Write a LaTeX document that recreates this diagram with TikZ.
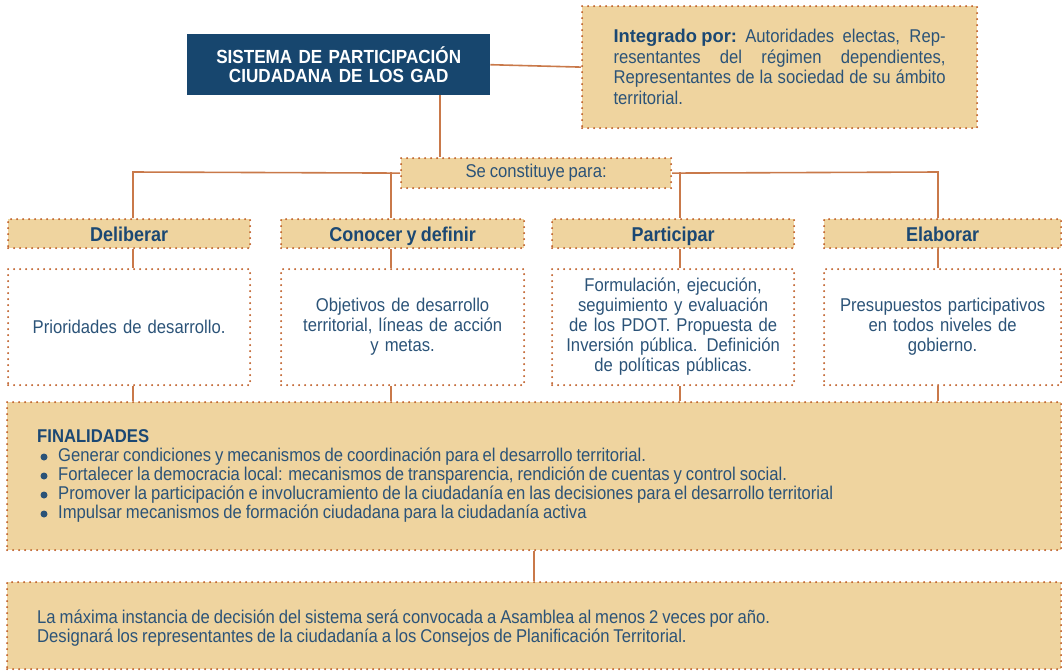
\documentclass[tikz,border=0pt]{standalone}
\usepackage{fontspec}
\setmainfont{Liberation Sans}[FakeStretch=0.9, WordSpace=0.85]
\definecolor{navy}{HTML}{17466E}
\definecolor{txt}{HTML}{2B5378}
\definecolor{hdr}{HTML}{1B4873}
\definecolor{tanf}{HTML}{EFD49F}
\definecolor{dotc}{HTML}{C0612B}
\definecolor{linec}{HTML}{C9794A}
\newcommand\bodysize{\fontsize{18.5}{20}\selectfont}
\newcommand\bul{\hspace*{21pt}}
\begin{document}
\begin{tikzpicture}[x=1pt,y=-1pt,
  dotbox/.style={draw=dotc, line width=2.2pt, dash pattern=on 0pt off 6pt, line cap=round, inner sep=0pt, anchor=north west},
  tanbox/.style={dotbox, fill=tanf},
  hdrbox/.style={tanbox, minimum height=29pt, text height=16.5pt, text depth=1.5pt, text=hdr, font=\bfseries\fontsize{20}{20}\selectfont},
  whitebox/.style={dotbox, minimum height=116pt, text width=236pt, align=center, text=txt, font=\bodysize},
  bulletdot/.style={fill=txt},
  conn/.style={draw=linec, line width=1.6pt}]
\useasboundingbox (0,0) rectangle (1062,670);

% title
\node[fill=navy, anchor=north west, inner sep=0pt, minimum width=303pt, minimum height=61pt,
  text width=303pt, align=center, text=white, font=\bfseries\fontsize{19}{19}\selectfont]
  (sys) at (187,34) {SISTEMA DE PARTICIPACIÓN\\CIUDADANA DE LOS GAD};

% integrado
\node[tanbox, minimum width=395pt, minimum height=122pt, text width=332pt, align=justify,
  text=txt, font=\fontsize{18.5}{20.5}\selectfont]
  (integ) at (581,5) {\hyphenpenalty=10000\hbadness=10000\textcolor{hdr}{\scalebox{1.1}[1]{\bfseries Integrado por:}} Autoridades electas, Rep-\linebreak resentantes del régimen dependientes,\linebreak Representantes de la sociedad de su ámbito\linebreak territorial.};

% se constituye
\node[tanbox, minimum width=270pt, minimum height=30pt, text=txt, font=\bodysize]
  (se) at (400,157) {Se constituye para:};

% headers
\node[hdrbox, minimum width=242pt] (del) at (7,218) {Deliberar};
\node[hdrbox, minimum width=243pt] (con) at (280,218) {Conocer y definir};
\node[hdrbox, minimum width=242pt] (par) at (551,218) {Participar};
\node[hdrbox, minimum width=237pt] (ela) at (823,218) {Elaborar};

% white boxes
\node[whitebox, minimum width=242pt] (delt) at (7,268) {Prioridades de desarrollo.};
\node[whitebox, minimum width=243pt] (cont) at (280,268) {Objetivos de desarrollo\\territorial, líneas de acción\\y metas.};
\node[whitebox, minimum width=242pt] (part) at (551,268) {Formulación, ejecución,\\seguimiento y evaluación\\de los PDOT. Propuesta de\\Inversión pública. Definición\\de políticas públicas.};
\node[whitebox, minimum width=237pt] (elat) at (823,268) {Presupuestos participativos\\en todos niveles de\\gobierno.};

% finalidades
\node[tanbox, minimum width=1054pt, minimum height=148pt] (fin) at (6,401) {};
\node[anchor=north west, inner sep=0pt, align=left, text=txt, font=\fontsize{18.5}{19}\selectfont]
  (fintext) at (37,429) {\textcolor{hdr}{\bfseries FINALIDADES}\\
  \bul Generar condiciones y mecanismos de coordinación para el desarrollo territorial.\\
  \bul Fortalecer la democracia local: mecanismos de transparencia, rendición de cuentas y control social.\\
  \bul Promover la participación e involucramiento de la ciudadanía en las decisiones para el desarrollo territorial\\
  \bul Impulsar mecanismos de formación ciudadana para la ciudadanía activa};
\foreach \yy in {457,476,495,514} \fill[bulletdot] (44,\yy) circle (3.5pt);

% bottom
\node[tanbox, minimum width=1054pt, minimum height=87pt] (bot) at (6,581) {};
\node[anchor=north west, inner sep=0pt, align=left, text=txt, font=\fontsize{18.5}{19}\selectfont]
  (bottext) at (37,610) {La máxima instancia de decisión del sistema será convocada a Asamblea al menos 2 veces por año.\\
  Designará los representantes de la ciudadanía a los Consejos de Planificación Territorial.};

% connectors
\coordinate (c1) at (133,172);
\coordinate (c2) at (391,172);
\coordinate (c3) at (680,172);
\coordinate (c4) at (938,172);
\coordinate (tap) at (440,157);
\draw[conn] (sys.east) -- (integ.west);
\draw[conn] (sys.south -| tap) -- (tap);
\draw[conn] (se.west) -- (c1) -- (c1 |- del.north);
\draw[conn] (se.east) -- (c4) -- (c4 |- ela.north);
\draw[conn] (c2) -- (c2 |- con.north);
\draw[conn] (c3) -- (c3 |- par.north);
\draw[conn] (c1 |- del.south) -- (c1 |- delt.north);
\draw[conn] (c2 |- con.south) -- (c2 |- cont.north);
\draw[conn] (c3 |- par.south) -- (c3 |- part.north);
\draw[conn] (c4 |- ela.south) -- (c4 |- elat.north);
\draw[conn] (c1 |- delt.south) -- (c1 |- fin.north);
\draw[conn] (c2 |- cont.south) -- (c2 |- fin.north);
\draw[conn] (c3 |- part.south) -- (c3 |- fin.north);
\draw[conn] (c4 |- elat.south) -- (c4 |- fin.north);
\draw[conn] (fin.south) -- (bot.north);
\end{tikzpicture}
\end{document}
